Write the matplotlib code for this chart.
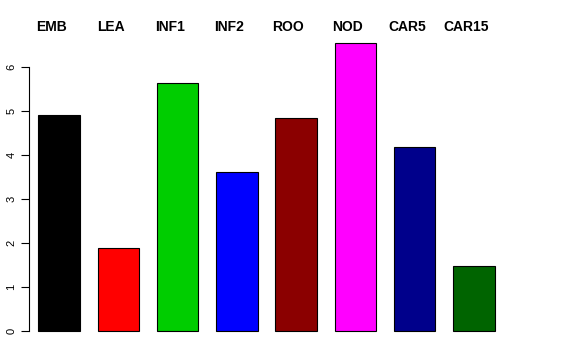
import matplotlib
matplotlib.use("Agg")
import matplotlib.pyplot as plt
import numpy as np

categories = ["EMB", "LEA", "INF1", "INF2", "ROO", "NOD", "CAR5", "CAR15"]
values = [4.91, 1.89, 5.64, 3.61, 4.84, 6.55, 4.18, 1.48]
colors = ["#000000", "#FF0000", "#00CD00", "#0000FF", "#8B0000", "#FF00FF", "#00008B", "#006400"]
yticks = [0, 1, 2, 3, 4, 5, 6]

plt.rcParams["font.family"] = ["Liberation Sans", "DejaVu Sans"]

fig = plt.figure(figsize=(5.76, 3.6), dpi=100)
ax = fig.add_axes([29/576, 10/360, (560-29)/576, 330/360])

x = np.arange(len(categories))
ax.bar(x, values, width=0.70, color=colors, edgecolor="black", linewidth=0.8)
ax.set_xlim(-0.506, 8.45)
ax.set_ylim(-0.432, 7.068)

for xi, lab in zip(x, categories):
    ax.text(xi - 0.13, 6.82, lab, ha="center", va="baseline", fontsize=10, fontweight="bold")

for s in ["top", "right", "bottom"]:
    ax.spines[s].set_visible(False)
ax.spines["left"].set_bounds(0, 6)
ax.spines["left"].set_linewidth(0.8)
ax.set_xticks([])
ax.set_yticks(yticks)
ax.set_yticklabels([str(t) for t in yticks], rotation=90, va="center", fontsize=8)
ax.tick_params(axis="y", length=6, width=0.8, pad=3)

fig.savefig("out.png", dpi=100)
